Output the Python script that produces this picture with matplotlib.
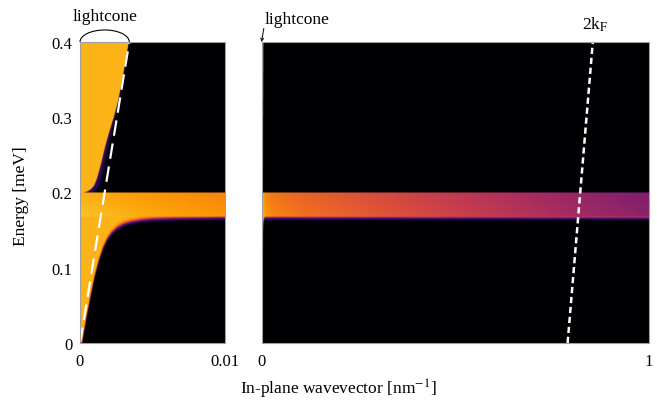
"""
Loss function map, Energy vs in-plane wavevector.
Left: zoom near the lightcone, right: full range up to 1 nm^-1.
"""

import numpy as np
import matplotlib.pyplot as plt
from matplotlib.patches import Arc

plt.rcParams['font.family'] = ['Liberation Serif', 'DejaVu Serif']
plt.rcParams['mathtext.fontset'] = 'stix'

E_max = 0.4            # meV
lc_k_top = 0.0034      # lightcone k at E_max  [nm^-1]
band_lo = 0.168        # meV
band_hi = 0.200
kF2_k = [0.79, 0.855]  # 2kF line, k at E=0 and E=E_max
kF2_E = [0.0, 0.4]

# lower black region edge
lower_edge_k = [0.00014, 0.0004, 0.0007, 0.001, 0.0013, 0.0016, 0.0019, 0.0022,
                0.0026, 0.003, 0.0035, 0.0042, 0.005, 0.0065, 0.01]
lower_edge_E = [0.0, 0.03, 0.06, 0.088, 0.11, 0.127, 0.139, 0.147,
                0.154, 0.158, 0.161, 0.1635, 0.165, 0.166, 0.167]

# yellow edge above the band (purple wedge between it and the lightcone)
upper_edge_E = [0.200, 0.2015, 0.204, 0.209, 0.218, 0.228, 0.240, 0.255,
                0.270, 0.285, 0.300, 0.320, 0.350, 0.400]
upper_edge_k = [0.00025, 0.0005, 0.00072, 0.00096, 0.00115, 0.0013, 0.00147, 0.00165,
                0.00185, 0.00208, 0.00232, 0.0026, 0.00292, 0.00336]

# colour level (0..1 of inferno) of the band along k
band_k = [0, 0.002, 0.005, 0.01, 0.03, 0.1, 0.3, 0.5, 0.7, 0.85, 1.0]
band_v = [0.84, 0.82, 0.79, 0.75, 0.71, 0.67, 0.60, 0.53, 0.46, 0.41, 0.36]

yellow = 0.83
black = 0.0

x_ticks_left = [0, 0.01]
x_labels_left = ['0', '0.01']
x_ticks_right = [0, 1]
x_labels_right = ['0', '1']
y_ticks = [0, 0.1, 0.2, 0.3, 0.4]
y_labels = ['0', '0.1', '0.2', '0.3', '0.4']
########################################################


def field(k, E):
    kL = E * lc_k_top / E_max
    kY = np.interp(E, upper_edge_E, upper_edge_k)
    Eb = np.interp(k, lower_edge_k, lower_edge_E)

    # above the band
    t = np.clip((k - kY) / np.maximum(kL - kY, 1e-9), 0, 1)
    wedge = 0.24 * (1 - t) ** 2
    z_up = np.where(k < kY, yellow, np.where(k < kL, wedge, black))

    # band
    z_band = np.interp(k, band_k, band_v) - 0.04 * ((E - band_lo) / (band_hi - band_lo) - 0.5)

    # below the band
    s = 1 / (1 + np.exp(-(E - Eb) / 0.0015))
    z_lo = black + (yellow - black) * s

    return np.where(E >= band_hi, z_up, np.where(E >= band_lo, z_band, z_lo))


def style_axes(ax):
    for sp in ax.spines.values():
        sp.set_color('#a0a0a0')
        sp.set_linewidth(0.8)
    ax.tick_params(length=0, labelsize=12)
    ax.tick_params(axis='x', pad=7)
    ax.tick_params(axis='y', pad=5.5)


fig = plt.figure(figsize=(6.57, 4.02), dpi=100)
ax1 = fig.add_axes([80 / 657, 58 / 402, 145 / 657, 301 / 402])
ax2 = fig.add_axes([261.5 / 657, 58 / 402, 387.5 / 657, 301 / 402])

E = np.linspace(0, E_max, 900)

# left panel
k1 = np.linspace(0, 0.01, 800)
K, EE = np.meshgrid(k1, E)
ax1.imshow(field(K, EE), origin='lower', extent=[0, 0.01, 0, E_max],
           aspect='auto', cmap='inferno', vmin=0, vmax=1, interpolation='bilinear')
ax1.plot([0, lc_k_top], [0, E_max], color='white', lw=1.6, dashes=(7, 3.5))
ax1.set_xlim(0, 0.01)
ax1.set_ylim(0, E_max)
ax1.set_xticks(x_ticks_left, x_labels_left)
ax1.set_yticks(y_ticks, y_labels)
style_axes(ax1)

# brace over the lightcone
ax1.add_patch(Arc((lc_k_top / 2, E_max), lc_k_top, 0.032, theta1=0, theta2=180,
                  color='black', lw=0.8, clip_on=False))
ax1.text(lc_k_top / 2, 0.4346, 'lightcone', ha='center', va='center', fontsize=12.5)

# right panel
k2 = np.linspace(0, 1, 3000)
K, EE = np.meshgrid(k2, E)
ax2.imshow(field(K, EE), origin='lower', extent=[0, 1, 0, E_max],
           aspect='auto', cmap='inferno', vmin=0, vmax=1, interpolation='bilinear')
ax2.plot(kF2_k, kF2_E, color='white', lw=1.8, dashes=(2.5, 1.5))
ax2.set_xlim(0, 1)
ax2.set_ylim(0, E_max)
ax2.set_xticks(x_ticks_right, x_labels_right)
ax2.set_yticks([])
style_axes(ax2)

ax2.annotate('', xy=(0, E_max), xytext=(0.006, 0.418),
             arrowprops=dict(arrowstyle='->', lw=0.7, color='black',
                             shrinkA=0, shrinkB=0, mutation_scale=5),
             annotation_clip=False)
ax2.text(0.008, 0.4306, 'lightcone', ha='left', va='center', fontsize=12.5)
ax2.text(kF2_k[1] + 0.005, 0.424, r'2k$_\mathrm{F}$', ha='center', va='center', fontsize=12.5)

fig.text(338 / 657, 1 - 389 / 402, r'In-plane wavevector [nm$^{\mathrm{-1}}$]',
         ha='center', va='center', fontsize=12.5)
fig.text(21 / 657, 1 - 196 / 402, 'Energy [meV]', rotation=90,
         ha='center', va='center', fontsize=12.5)

fig.savefig('out.png', dpi=100)
